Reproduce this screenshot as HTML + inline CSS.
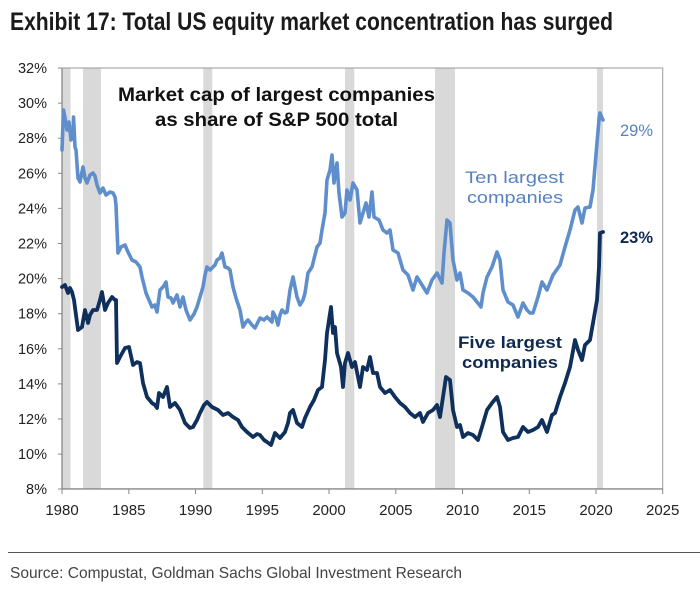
<!DOCTYPE html>
<html>
<head>
<meta charset="utf-8">
<style>
  html,body{margin:0;padding:0;background:#fff;}
  body{width:700px;height:593px;overflow:hidden;}
  svg{display:block;}
</style>
</head>
<body>
<svg width="700" height="593" viewBox="0 0 700 593" xmlns="http://www.w3.org/2000/svg">
  <!-- Title -->
  <text x="10" y="30" font-family="Liberation Sans, Arial, sans-serif" font-weight="bold" font-size="25" fill="#1a1a1a" textLength="603" lengthAdjust="spacingAndGlyphs">Exhibit 17: Total US equity market concentration has surged</text>

  <!-- Recession bars -->
  <g fill="#d9d9d9">
    <rect x="62.5" y="68" width="8" height="421"/>
    <rect x="83" y="68" width="18" height="421"/>
    <rect x="203.3" y="68" width="9" height="421"/>
    <rect x="345" y="68" width="9.3" height="421"/>
    <rect x="435" y="68" width="20" height="421"/>
    <rect x="597" y="68" width="6" height="421"/>
  </g>

  <!-- Frame -->
  <rect x="62" y="68" width="600.7" height="420.8" fill="none" stroke="#9a9a9a" stroke-width="1"/>
  <line x1="62" y1="68" x2="62" y2="489" stroke="#888" stroke-width="1.3"/>
  <line x1="62" y1="489" x2="663" y2="489" stroke="#888" stroke-width="1.3"/>

  <!-- Y ticks and labels -->
  <g stroke="#888" stroke-width="1">
    <line x1="58" y1="68" x2="62" y2="68"/>
    <line x1="58" y1="103.1" x2="62" y2="103.1"/>
    <line x1="58" y1="138.2" x2="62" y2="138.2"/>
    <line x1="58" y1="173.3" x2="62" y2="173.3"/>
    <line x1="58" y1="208.4" x2="62" y2="208.4"/>
    <line x1="58" y1="243.5" x2="62" y2="243.5"/>
    <line x1="58" y1="278.6" x2="62" y2="278.6"/>
    <line x1="58" y1="313.7" x2="62" y2="313.7"/>
    <line x1="58" y1="348.8" x2="62" y2="348.8"/>
    <line x1="58" y1="383.9" x2="62" y2="383.9"/>
    <line x1="58" y1="419" x2="62" y2="419"/>
    <line x1="58" y1="454.1" x2="62" y2="454.1"/>
    <line x1="58" y1="489" x2="62" y2="489"/>
  </g>
  <g font-family="Liberation Sans, Arial, sans-serif" font-size="14.5" fill="#222" text-anchor="end">
    <text x="47" y="73">32%</text>
    <text x="47" y="108.1">30%</text>
    <text x="47" y="143.2">28%</text>
    <text x="47" y="178.3">26%</text>
    <text x="47" y="213.4">24%</text>
    <text x="47" y="248.5">22%</text>
    <text x="47" y="283.6">20%</text>
    <text x="47" y="318.7">18%</text>
    <text x="47" y="353.8">16%</text>
    <text x="47" y="388.9">14%</text>
    <text x="47" y="424">12%</text>
    <text x="47" y="459.1">10%</text>
    <text x="47" y="494">8%</text>
  </g>

  <!-- X ticks and labels -->
  <g stroke="#888" stroke-width="1">
    <line x1="62" y1="489" x2="62" y2="494"/>
    <line x1="128.8" y1="489" x2="128.8" y2="494"/>
    <line x1="195.5" y1="489" x2="195.5" y2="494"/>
    <line x1="262.3" y1="489" x2="262.3" y2="494"/>
    <line x1="329" y1="489" x2="329" y2="494"/>
    <line x1="395.8" y1="489" x2="395.8" y2="494"/>
    <line x1="462.5" y1="489" x2="462.5" y2="494"/>
    <line x1="529.3" y1="489" x2="529.3" y2="494"/>
    <line x1="596" y1="489" x2="596" y2="494"/>
    <line x1="662.7" y1="489" x2="662.7" y2="494"/>
  </g>
  <g font-family="Liberation Sans, Arial, sans-serif" font-size="15" fill="#222" text-anchor="middle">
    <text x="62" y="515">1980</text>
    <text x="128.8" y="515">1985</text>
    <text x="195.5" y="515">1990</text>
    <text x="262.3" y="515">1995</text>
    <text x="329" y="515">2000</text>
    <text x="395.8" y="515">2005</text>
    <text x="462.5" y="515">2010</text>
    <text x="529.3" y="515">2015</text>
    <text x="596" y="515">2020</text>
    <text x="662.7" y="515">2025</text>
  </g>

  <!-- Ten largest series -->
  <polyline fill="none" stroke="#5e8ecb" stroke-width="3.6" stroke-linejoin="round" stroke-linecap="round"
    points="62,150 63.5,110 65,118 67,130 69,122 71,140 73,135 73.5,117 75,147 76,150 78,178 80,182 83,167 85,178 87,183 90,175 93,173 95,176 97,185 100,193 103,188 106,195 110,192 113,193 115,197 116,205 118,253 121,247 125,245 128,252 132,260 136,262 140,267 142,277 146,293 149,300 152,307 155,305 157,312 160,290 163,287 166,282 168,297 171,298 173,303 177,295 180,307 183,297 186,310 190,320 194,314 197,307 200,297 203,287 205,275 207,267 210,270 212,268 215,265 217,260 220,258 222,253 225,267 228,268 230,270 233,287 236,298 240,310 243,327 246,322 248,320 252,325 255,328 258,322 260,318 264,320 267,317 270,320 272,322 273,312 276,318 278,325 280,315 282,310 285,313 287,312 290,290 293,277 295,287 297,297 300,305 303,300 305,293 308,273 312,267 315,255 317,247 320,243 322,230 325,213 327,180 330,170 332,155 334,183 337,163 339,193 342,217 345,213 347,190 350,200 353,183 357,190 360,223 363,213 366,203 369,217 372,192 374,217 379,220 383,230 387,233 390,230 393,250 398,253 403,270 408,275 413,290 417,277 422,285 427,293 432,280 437,273 442,283 444,253 447,220 450,223 453,260 457,280 460,273 463,290 468,293 473,297 477,302 481,307 483,293 487,277 492,267 497,252 500,260 503,290 508,302 513,305 518,317 523,303 527,310 530,313 533,313 538,297 542,282 547,290 553,275 560,265 565,247 570,230 575,210 578,207 582,223 585,208 590,207 593,190 597,143 599,120 600,113 602,118 603,120"/>

  <!-- Five largest series -->
  <polyline fill="none" stroke="#0f2f5c" stroke-width="3.8" stroke-linejoin="round" stroke-linecap="round"
    points="62,287 65,285 68,293 70,288 72,292 74,300 76,315 78,330 82,327 85,310 88,323 90,315 93,310 97,310 100,300 102,292 105,310 108,303 112,297 115,300 116,300 117,363 120,357 125,348 129,347 133,365 137,362 140,363 143,383 147,397 152,403 155,405 157,408 159,393 163,397 167,387 170,407 175,403 180,410 185,423 190,428 193,427 197,420 200,413 204,405 207,402 212,407 218,410 223,415 228,413 233,417 238,420 242,427 247,432 253,437 257,434 260,435 264,440 267,442 271,445 275,433 280,438 285,432 288,423 290,413 293,410 297,423 302,427 305,418 310,407 314,400 318,390 322,387 325,360 327,333 329,320 331,307 333,333 335,327 337,353 341,367 343,387 345,363 348,353 352,367 355,362 360,387 363,367 367,370 370,357 373,373 377,373 380,387 385,393 390,390 395,397 400,403 405,407 410,413 415,417 420,413 423,422 428,413 433,410 437,405 440,417 443,397 446,377 450,380 453,410 457,427 460,425 463,437 468,433 473,435 478,440 482,427 487,410 492,403 497,397 500,407 503,432 508,440 513,438 518,437 523,427 528,432 533,430 538,427 542,420 547,432 552,415 555,413 560,397 565,383 570,367 575,340 578,350 582,360 585,345 590,340 593,323 597,300 599,267 600,233 603,232"/>

  <!-- In-chart title -->
  <g font-family="Liberation Sans, Arial, sans-serif" font-weight="bold" font-size="19.5" fill="#111">
    <text x="118" y="101" textLength="317" lengthAdjust="spacingAndGlyphs">Market cap of largest companies</text>
    <text x="155" y="126" textLength="243" lengthAdjust="spacingAndGlyphs">as share of S&amp;P 500 total</text>
  </g>

  <!-- Series labels -->
  <g font-family="Liberation Sans, Arial, sans-serif" font-size="16.5" fill="#5682c0">
    <text x="465" y="183" textLength="99" lengthAdjust="spacingAndGlyphs">Ten largest</text>
    <text x="467" y="203" textLength="96" lengthAdjust="spacingAndGlyphs">companies</text>
    <text x="620" y="136" textLength="33" lengthAdjust="spacingAndGlyphs">29%</text>
  </g>
  <g font-family="Liberation Sans, Arial, sans-serif" font-weight="bold" font-size="16.5" fill="#0f2a50">
    <text x="458" y="348" textLength="104" lengthAdjust="spacingAndGlyphs">Five largest</text>
    <text x="462" y="368" textLength="96" lengthAdjust="spacingAndGlyphs">companies</text>
    <text x="620" y="243" textLength="33" lengthAdjust="spacingAndGlyphs">23%</text>
  </g>

  <!-- Footer -->
  <line x1="8" y1="552.5" x2="700" y2="552.5" stroke="#555" stroke-width="1"/>
  <text x="10" y="578" font-family="Liberation Sans, Arial, sans-serif" font-size="16" fill="#444" textLength="452" lengthAdjust="spacingAndGlyphs">Source: Compustat, Goldman Sachs Global Investment Research</text>
</svg>
</body>
</html>
